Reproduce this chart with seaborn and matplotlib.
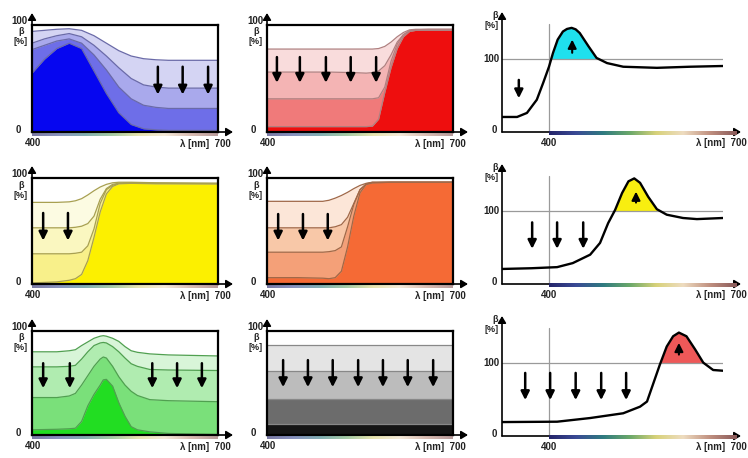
import numpy as np
import matplotlib
matplotlib.use("Agg")
import matplotlib.pyplot as plt
from matplotlib.colors import LinearSegmentedColormap
from matplotlib.patches import FancyArrowPatch
from matplotlib.transforms import IdentityTransform
import seaborn as sns

# ---- values: reflectance beta in %, wavelength in nm ----
# layered panels: a = lightest (top) layer ... d = full colour layer
blue_wl = [400, 420, 440, 460, 480, 500, 520, 540, 560, 580, 600, 620, 650, 700]
blue_a = [94, 95, 96, 96.5, 95, 90, 83, 76, 71, 68.5, 67.5, 67, 67, 67]
blue_b = [83, 87, 90, 92, 89, 81, 71, 60, 50, 44, 42, 41, 41, 41]
blue_c = [77, 81, 85, 87, 83, 72, 58, 42, 31, 25, 23, 22, 22, 22]
blue_d = [55, 68, 78, 83, 78, 57, 36, 18, 7, 3, 2, 1.5, 1.5, 1.5]
blue_arrows = [603, 643, 684]

red_wl = [400, 450, 500, 540, 560, 570, 580, 590, 600, 610, 620, 630, 640, 660, 700]
red_a = [77.5, 77.5, 77.5, 77.5, 77.5, 77.5, 78, 80, 84, 89, 93, 95.5, 96, 96, 96]
red_b = [56, 56, 56, 55.5, 55, 55.5, 57, 62, 72, 84, 91, 94.5, 95.5, 96, 96]
red_c = [31, 31, 31, 31, 31, 31, 32, 42, 66, 82, 91, 94.5, 95, 95, 95]
red_d = [5, 5, 5, 5, 5, 5.5, 12, 37, 60, 78, 89, 94, 95, 95, 95]
red_arrows = [416, 453, 495, 535, 576]

yellow_wl = [400, 440, 460, 470, 480, 490, 500, 510, 520, 530, 540, 560, 600, 700]
yellow_a = [77, 77, 77.5, 78.5, 80.5, 84, 88, 91.5, 94, 95.5, 96, 96, 95.5, 95]
yellow_b = [53, 53, 53, 53.5, 54.5, 57, 64, 80, 90, 94, 95, 95.5, 95, 95]
yellow_c = [28.5, 28.5, 28.5, 29, 30, 36, 52, 76, 89, 93, 95, 95, 95, 94.5]
yellow_d = [1, 2, 3.5, 5, 9, 22, 44, 68, 85, 92, 94.5, 95, 94.5, 94.5]
yellow_arrows = [418, 458]

orange_wl = [400, 450, 490, 500, 510, 520, 530, 540, 550, 560, 570, 600, 700]
orange_a = [78, 78, 78, 79, 81, 83.5, 86.5, 90, 93, 95, 96, 96, 96]
orange_b = [53, 53, 53, 53, 54, 56, 63, 76, 89, 94.5, 96, 96, 96]
orange_c = [30, 30, 30, 30.5, 31.5, 35, 54, 75, 89, 94, 95.5, 96, 96]
orange_d = [6, 6, 5.5, 5, 6, 12, 35, 64, 86, 94, 95.5, 96, 96]
orange_arrows = [418, 458, 498]

green_wl = [400, 440, 460, 470, 480, 490, 500, 510, 515, 520, 530, 540, 550, 560, 570, 590, 620, 700]
green_a = [80, 80, 81, 82, 86, 89.5, 93, 95, 95.5, 95, 93, 90, 85, 81, 79.5, 78, 77, 76]
green_b = [65.5, 65.5, 66, 67, 73, 80, 86, 88.5, 89, 88.5, 85, 80, 74, 68.5, 66, 63, 62.5, 62]
green_c = [36, 36, 37.5, 40, 48, 57, 66, 73, 75, 74, 66, 56, 48, 42, 38, 34, 33, 32]
green_d = [5, 5.5, 6, 6.5, 13, 28, 39, 48, 53, 53.5, 47, 31, 18, 8, 5, 3, 1.5, 0.5]
green_arrows = [418, 461, 594, 634, 674]

gray_wl = [400, 700]
gray_a = [86.5, 86.5]
gray_b = [62, 62]
gray_c = [35, 35]
gray_d = [10.5, 10.5]
gray_arrows = [426, 466, 506, 547, 587, 627, 668]

# fluorescent panels (beta can go above 100 %)
cyan_wl = [319, 330, 345, 362, 379, 390, 400, 407, 415, 424, 431, 439, 446, 453, 468, 482, 500, 528, 586, 643, 700]
cyan_val = [20.5, 20.5, 20.5, 26, 44, 67, 89, 108, 126, 137, 140.5, 142, 140, 135, 117, 101, 94, 89, 87.5, 89, 90]
cyan_down = [348]
cyan_up = 440

yfl_wl = [319, 370, 414, 441, 471, 488, 502, 514, 526, 537, 547, 557, 571, 586, 603, 631, 655, 700]
yfl_val = [20.5, 21.5, 23, 28.5, 40, 56, 83, 101, 124, 140, 144, 138, 119, 102, 94.5, 90, 88.5, 90]
yfl_down = [371, 414, 459]
yfl_up = 550

rfl_wl = [319, 414, 471, 528, 557, 569, 580, 591, 603, 614, 624, 637, 652, 666, 683, 700]
rfl_val = [19, 19.5, 24.5, 31, 40, 47, 72, 97, 122, 136, 141, 136, 118, 100, 90, 89]
rfl_down = [359, 402, 446, 490, 533]
rfl_up = 624

sns.set_style("white")
plt.rcParams['font.family'] = ['Liberation Sans', 'DejaVu Sans']

W, H = 748, 458
fig = plt.figure(figsize=(W / 100, H / 100), dpi=100)
fig.patch.set_facecolor('white')

spec_cmap = LinearSegmentedColormap.from_list(
    'spec', ['#25256a', '#3a4a95', '#2f7a80', '#6aa86a', '#d8d27a', '#eedcc0', '#c09080', '#8a5a5a'])


def px_axes(left, top, right, bottom):
    return fig.add_axes([left / W, 1 - bottom / H, (right - left) / W, (bottom - top) / H])


def label(x, y, s, ha='center', size=7):
    fig.text(x / W, 1 - y / H, s, ha=ha, va='center', fontsize=size,
             color='#222222', fontweight='bold')


def axis_arrow(x0, y0, x1, y1):
    fig.add_artist(FancyArrowPatch((x0, H - y0), (x1, H - y1), transform=IdentityTransform(),
                                   arrowstyle='-|>,head_length=0.5,head_width=0.3',
                                   mutation_scale=8, lw=1.2, color='k', shrinkA=0, shrinkB=0))


def strip(x0, x1, y, alpha, h=3):
    sax = px_axes(x0, y, x1, y + h)
    sax.imshow(np.linspace(0, 1, 256)[None, :], aspect='auto', cmap=spec_cmap, alpha=alpha)
    sax.axis('off')
    sax.set_zorder(5)


def down_arrow(ax, x, y0, y1, lw=1.8):
    ax.annotate('', xy=(x, y1), xytext=(x, y0),
                arrowprops=dict(arrowstyle='-|>,head_length=0.5,head_width=0.25', color='k',
                                lw=lw, mutation_scale=10, shrinkA=0, shrinkB=0))


def layered(L, T, R, B, wl, layers, fills, edge, arrows, span):
    ax = px_axes(L, T, R, B)
    for vals, c in zip(layers, fills):
        ax.fill_between(wl, 0, vals, color=c, lw=0)
    for vals in layers:
        sns.lineplot(x=wl, y=vals, ax=ax, color=edge, lw=0.9)
    for x in arrows:
        down_arrow(ax, x, span[0], span[1])
    ax.set_xlim(400, 700)
    ax.set_ylim(0, 100)
    ax.set_xticks([])
    ax.set_yticks([])
    for s in ax.spines.values():
        s.set_visible(True)
        s.set_color('k')
        s.set_linewidth(1.6)
    strip(L, R, B + 1, 0.6)
    axis_arrow(L, B, L, T - 12)
    axis_arrow(R, B, R + 15, B)
    label(L - 4, T - 4, '100', ha='right')
    label(L - 11, T + 7, 'β', size=6.5)
    label(L - 11, T + 17, '[%]', size=6.5)
    label(L - 14, B - 2, '0')
    label(L + 1, B + 11, '400')
    label(R + 13, B + 12, 'λ [nm]  700', ha='right')


def fluo(B, wl, vals, fill, downs, span, up_x, up_span):
    L, R = 502, 723
    ax = px_axes(L, B - 110, R, B)
    wl = np.array(wl)
    vals = np.array(vals)
    ax.axhline(100, color='#9a9a9a', lw=0.9)
    ax.axvline(400, ymax=147 / 150, color='#9a9a9a', lw=0.9)
    ax.fill_between(wl, 100, vals, where=vals > 100, interpolate=True, color=fill, lw=0)
    sns.lineplot(x=wl, y=vals, ax=ax, color='k', lw=1.7)
    for x in downs:
        down_arrow(ax, x, span[0], span[1])
    down_arrow(ax, up_x, up_span[0], up_span[1], lw=1.5)
    ax.set_xlim(319, 700)
    ax.set_ylim(0, 150)
    ax.axis('off')
    axis_arrow(L, B, L, B - 120)
    axis_arrow(L, B, 741, B)
    strip(549, 737, B - 1, 1.0, h=4)
    label(498, B - 117, 'β', ha='right', size=6.5)
    label(499, B - 106, '[%]', ha='right', size=6.5)
    label(499, B - 73, '100', ha='right')
    label(497, B - 2, '0', ha='right')
    label(549, B + 11, '400')
    label(747, B + 11, 'λ [nm]  700', ha='right')


rows = [(25, 132), (178, 284), (331, 435)]
cols = [(32, 218), (267, 453)]

layered(cols[0][0], rows[0][0], cols[0][1], rows[0][1], blue_wl,
        [blue_a, blue_b, blue_c, blue_d], ['#d4d4f3', '#a9a9ec', '#6e6ee8', '#0606f0'],
        '#6a6aa8', blue_arrows, (61, 35))
layered(cols[1][0], rows[0][0], cols[1][1], rows[0][1], red_wl,
        [red_a, red_b, red_c, red_d], ['#f9dcdc', '#f4b4b4', '#f07a7a', '#ee0e0e'],
        '#b08080', red_arrows, (70, 46))
layered(cols[0][0], rows[1][0], cols[0][1], rows[1][1], yellow_wl,
        [yellow_a, yellow_b, yellow_c, yellow_d], ['#fcfbe2', '#faf7c0', '#f8f08a', '#fcf000'],
        '#a8a050', yellow_arrows, (67, 41))
layered(cols[1][0], rows[1][0], cols[1][1], rows[1][1], orange_wl,
        [orange_a, orange_b, orange_c, orange_d], ['#fce6d8', '#f8c8a8', '#f4a078', '#f56a35'],
        '#a06848', orange_arrows, (66, 41))
layered(cols[0][0], rows[2][0], cols[0][1], rows[2][1], green_wl,
        [green_a, green_b, green_c, green_d], ['#d8f5d8', '#b0ecb0', '#7ae07a', '#22dd22'],
        '#50a050', green_arrows, (69, 45))
layered(cols[1][0], rows[2][0], cols[1][1], rows[2][1], gray_wl,
        [gray_a, gray_b, gray_c, gray_d], ['#e4e4e4', '#bcbcbc', '#6c6c6c', '#151515'],
        '#888888', gray_arrows, (72, 46))

fluo(132, cyan_wl, cyan_val, '#1fe0ee', cyan_down, (71, 46), cyan_up, (108, 126))
fluo(284, yfl_wl, yfl_val, '#f8ee10', yfl_down, (84, 48), yfl_up, (111, 126))
fluo(436, rfl_wl, rfl_val, '#ee5858', rfl_down, (86, 49), rfl_up, (111, 127))

fig.savefig('out.png', dpi=100)
